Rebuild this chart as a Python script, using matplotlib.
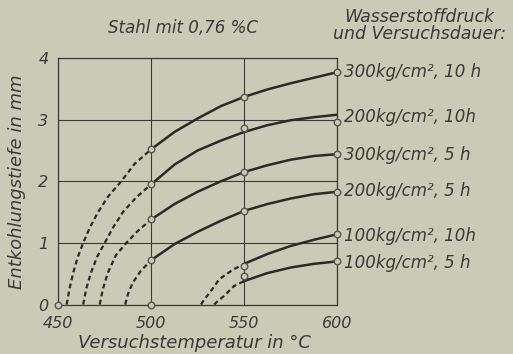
import numpy as np
import matplotlib
matplotlib.use('Agg')
import matplotlib.pyplot as plt

plt.rcParams['font.family'] = ['DejaVu Sans']
plt.rcParams['font.style'] = 'italic'

# solid parts (measured range), temperatures in degC, depth in mm
temps_solid = [500, 512.5, 525, 537.5, 550, 562.5, 575, 587.5, 600]
depth_300_10 = [2.52, 2.80, 3.02, 3.22, 3.37, 3.49, 3.59, 3.68, 3.77]
depth_200_10 = [1.95, 2.27, 2.50, 2.66, 2.80, 2.91, 2.99, 3.04, 3.08]
depth_300_5 = [1.38, 1.63, 1.83, 2.00, 2.15, 2.26, 2.35, 2.41, 2.44]
depth_200_5 = [0.72, 0.98, 1.18, 1.36, 1.52, 1.63, 1.72, 1.79, 1.83]

temps_solid_100 = [550, 562.5, 575, 587.5, 600]
depth_100_10 = [0.66, 0.82, 0.95, 1.05, 1.14]
depth_100_5 = [0.38, 0.51, 0.60, 0.66, 0.70]

# dashed extrapolations down to zero depth
dash_300_10_t = [454.5, 456, 458, 460.5, 463.4, 467, 471.4, 477, 483.9, 491, 500]
dash_300_10_d = [0.0, 0.25, 0.51, 0.77, 1.0, 1.25, 1.5, 1.76, 2.0, 2.28, 2.52]
dash_200_10_t = [463.4, 465, 467.5, 471, 475, 479.5, 484.8, 492, 500]
dash_200_10_d = [0.0, 0.25, 0.51, 0.78, 1.0, 1.25, 1.5, 1.74, 1.95]
dash_300_5_t = [472.3, 474, 476.6, 481, 486.6, 493, 500]
dash_300_5_d = [0.0, 0.25, 0.51, 0.80, 1.0, 1.20, 1.38]
dash_200_5_t = [486, 487.5, 490, 494.5, 500]
dash_200_5_d = [0.0, 0.17, 0.35, 0.55, 0.72]
dash_100_10_t = [526.8, 528.5, 531.2, 536.6, 543.7, 550]
dash_100_10_d = [0.0, 0.08, 0.18, 0.41, 0.56, 0.66]
dash_100_5_t = [533.9, 536, 539.2, 544.6, 550]
dash_100_5_d = [0.0, 0.06, 0.14, 0.30, 0.38]

# measured points (open circles)
pts_t = [450, 500, 500, 500, 500, 500, 550, 550, 550, 550, 550, 550,
         600, 600, 600, 600, 600, 600]
pts_d = [0.0, 0.0, 2.52, 1.95, 1.38, 0.72, 3.37, 2.87, 2.15, 1.52, 0.62, 0.47,
         3.77, 2.97, 2.44, 1.83, 1.14, 0.70]

labels = ['300kg/cm², 10 h', '200kg/cm², 10h', '300kg/cm², 5 h',
          '200kg/cm², 5 h', '100kg/cm², 10h', '100kg/cm², 5 h']
label_y = [3.77, 3.04, 2.43, 1.84, 1.11, 0.67]

bg = '#c9cbb7'
ink = '#2a2a28'
txt = '#3a3a36'

fig = plt.figure(figsize=(5.13, 3.54), dpi=100, facecolor=bg)
ax = fig.add_axes([0.1136, 0.1398, 0.5434, 0.6962])
ax.set_facecolor(bg)

for d in [depth_300_10, depth_200_10, depth_300_5, depth_200_5]:
    ax.plot(temps_solid, d, color=ink, lw=1.8, zorder=3)
for d in [depth_100_10, depth_100_5]:
    ax.plot(temps_solid_100, d, color=ink, lw=1.8, zorder=3)

for t, d in [(dash_300_10_t, dash_300_10_d), (dash_200_10_t, dash_200_10_d),
             (dash_300_5_t, dash_300_5_d), (dash_200_5_t, dash_200_5_d),
             (dash_100_10_t, dash_100_10_d), (dash_100_5_t, dash_100_5_d)]:
    ax.plot(t, d, color=ink, lw=1.6, ls=(0, (2.2, 1.5)), zorder=3)

ax.scatter(pts_t, pts_d, s=22, facecolor=bg, edgecolor='#55554f', lw=1.0,
           zorder=5, clip_on=False)

ax.set_xlim(450, 600)
ax.set_ylim(0, 4)
ax.set_xticks([450, 500, 550, 600])
ax.set_yticks([0, 1, 2, 3, 4])
ax.grid(True, color=txt, lw=0.8)
ax.tick_params(length=0, labelsize=11.5, colors=txt)
ax.tick_params(axis='x', pad=8)
ax.tick_params(axis='y', pad=7)
for s in ax.spines.values():
    s.set_color(txt)
    s.set_linewidth(0.9)

ax.set_xlabel('Versuchstemperatur in °C', fontsize=13, color=txt)
ax.xaxis.set_label_coords(0.49, -0.118)
ax.set_ylabel('Entkohlungstiefe in mm', fontsize=13, color=txt, labelpad=9)

fig.text(0.357, 0.92, 'Stahl mit 0,76 %C', fontsize=12, color=txt,
         ha='center', va='center')
fig.text(0.818, 0.928, 'Wasserstoffdruck\nund Versuchsdauer:', fontsize=12.5,
         color=txt, ha='center', va='center', linespacing=0.95)

for lab, y in zip(labels, label_y):
    ax.text(604, y, lab, fontsize=12, color=txt, ha='left', va='center',
            clip_on=False)

fig.savefig('out.png', dpi=100, facecolor=bg)
